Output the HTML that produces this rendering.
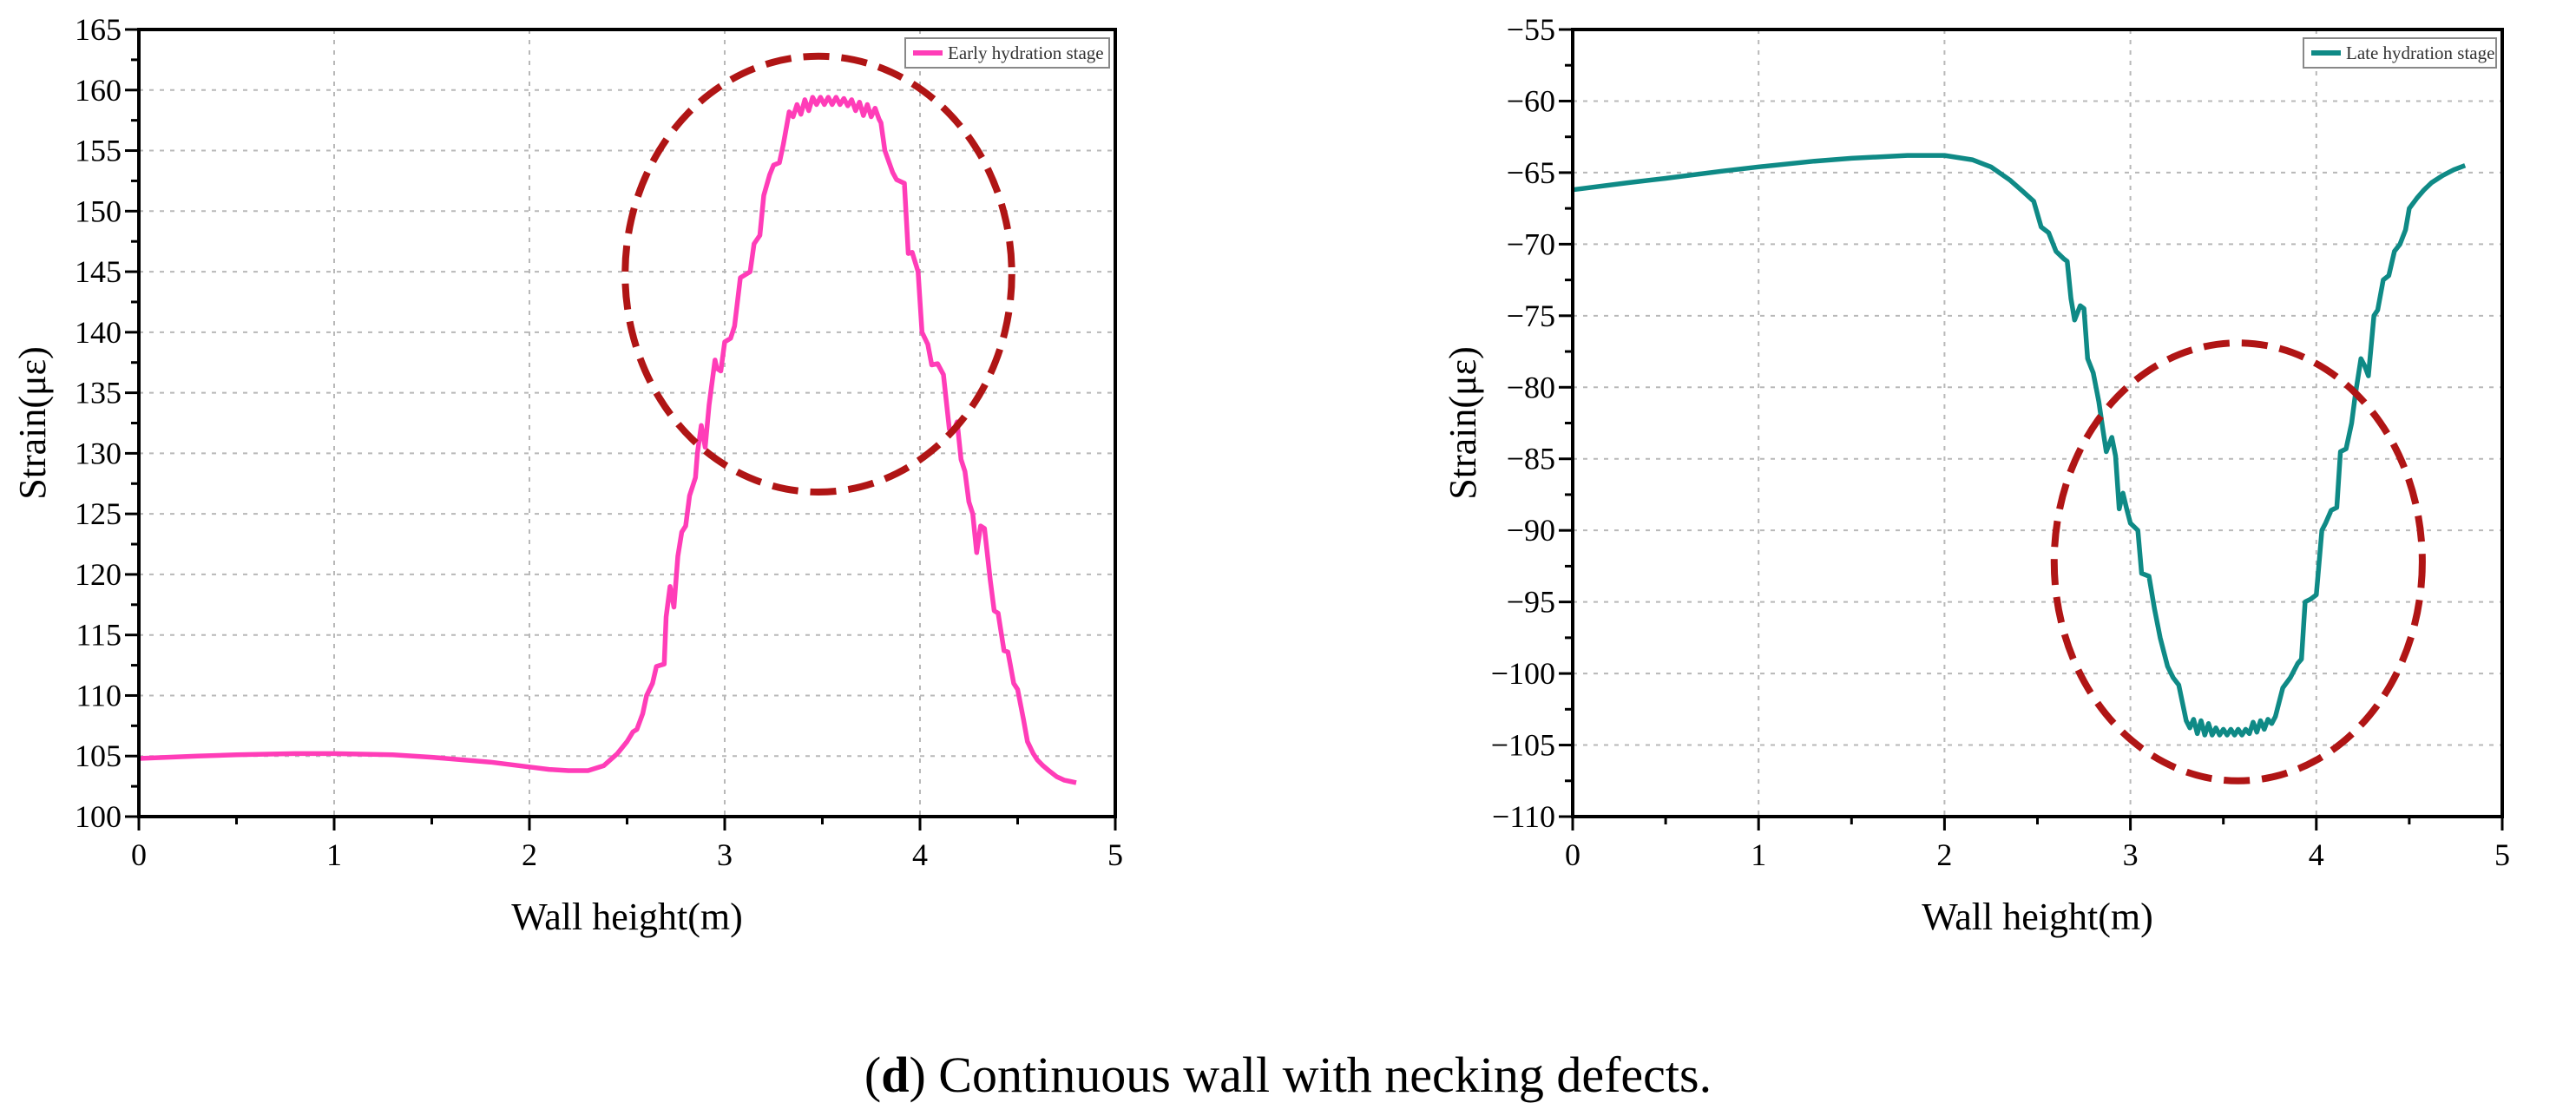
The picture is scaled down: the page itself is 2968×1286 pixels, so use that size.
<!DOCTYPE html>
<html><head><meta charset="utf-8">
<style>
html,body{margin:0;padding:0;background:#fff;}
svg{display:block;font-family:"Liberation Serif",serif;}
</style></head>
<body>
<svg id="fig" width="2968" height="1286" viewBox="0 0 2968 1286" xmlns="http://www.w3.org/2000/svg">
<g id="left"></g>
<g id="right"></g>
<text x="1484" y="1258" text-anchor="middle" font-size="58" fill="#000">(<tspan font-weight="bold">d</tspan>) Continuous wall with necking defects.</text>
</svg>
<script>
const earlyX = [0,0.3,0.5,0.8,1.0,1.3,1.5,1.8,2.0,2.1,2.2,2.3,2.38,2.45,2.5,2.53,2.55,2.58,2.6,2.63,2.65,2.69,2.7,2.72,2.74,2.76,2.78,2.8,2.82,2.85,2.86,2.88,2.9,2.92,2.95,2.96,2.98,3.0,3.03,3.05,3.08,3.1,3.13,3.15,3.18,3.2,3.23,3.25,3.28,3.3,3.33,3.35,3.37,3.39,3.41,3.43,3.45,3.47,3.49,3.51,3.53,3.55,3.57,3.59,3.61,3.63,3.65,3.67,3.69,3.71,3.73,3.75,3.77,3.79,3.8,3.82,3.86,3.88,3.92,3.94,3.96,3.99,4.01,4.04,4.06,4.09,4.12,4.15,4.17,4.19,4.21,4.23,4.25,4.27,4.29,4.31,4.33,4.36,4.38,4.4,4.43,4.45,4.48,4.5,4.53,4.55,4.58,4.6,4.63,4.66,4.7,4.74,4.77,4.8];
const earlyY = [104.8,105.0,105.1,105.2,105.2,105.1,104.9,104.5,104.1,103.9,103.8,103.8,104.2,105.2,106.2,107.0,107.2,108.5,110.0,111.0,112.4,112.6,116.5,119.0,117.3,121.5,123.5,124.0,126.5,128.0,130.0,132.3,130.5,134.0,137.7,137.0,136.8,139.2,139.5,140.5,144.5,144.7,145.0,147.3,148.0,151.3,153.0,153.8,154.0,155.5,158.2,157.8,158.8,158.0,159.2,158.3,159.4,158.8,159.4,158.8,159.4,158.8,159.4,158.8,159.3,158.7,159.2,158.3,159.0,157.9,158.8,157.8,158.5,157.6,157.3,155.0,153.2,152.6,152.3,146.5,146.6,145.0,140.0,139.0,137.3,137.4,136.5,132.0,131.8,132.6,129.5,128.5,126.0,125.0,121.8,124.0,123.8,119.5,117.0,116.8,113.7,113.6,111.0,110.5,108.0,106.2,105.2,104.7,104.2,103.8,103.3,103.0,102.9,102.8];
const lateX = [0,0.3,0.5,0.8,1.0,1.3,1.5,1.8,2.0,2.15,2.25,2.35,2.42,2.48,2.52,2.56,2.6,2.64,2.66,2.68,2.7,2.73,2.75,2.77,2.8,2.83,2.85,2.87,2.9,2.92,2.94,2.96,2.98,3.0,3.04,3.06,3.1,3.13,3.16,3.2,3.23,3.26,3.3,3.32,3.34,3.36,3.38,3.4,3.42,3.44,3.46,3.48,3.5,3.52,3.54,3.56,3.58,3.6,3.62,3.64,3.66,3.68,3.7,3.72,3.74,3.76,3.78,3.82,3.86,3.9,3.92,3.94,3.97,4.0,4.03,4.05,4.08,4.11,4.13,4.16,4.19,4.21,4.24,4.26,4.28,4.31,4.33,4.36,4.39,4.42,4.45,4.48,4.5,4.54,4.58,4.62,4.68,4.74,4.8];
const lateY = [-66.2,-65.7,-65.4,-64.9,-64.6,-64.2,-64.0,-63.8,-63.8,-64.1,-64.6,-65.5,-66.3,-67.0,-68.8,-69.2,-70.5,-71.0,-71.2,-73.8,-75.3,-74.3,-74.5,-78.0,-79.0,-81.0,-82.8,-84.5,-83.5,-84.8,-88.5,-87.4,-88.5,-89.5,-90.0,-93.0,-93.2,-95.5,-97.5,-99.5,-100.3,-100.8,-103.3,-103.8,-103.2,-104.2,-103.3,-104.3,-103.5,-104.3,-103.8,-104.3,-103.9,-104.3,-103.9,-104.3,-103.9,-104.3,-103.9,-104.2,-103.4,-104.1,-103.3,-103.9,-103.2,-103.5,-103.0,-101.0,-100.3,-99.3,-99.0,-95.0,-94.8,-94.5,-90.0,-89.5,-88.6,-88.4,-84.5,-84.3,-82.5,-80.5,-78.0,-78.5,-79.2,-75.0,-74.6,-72.5,-72.2,-70.5,-70.0,-69.0,-67.5,-66.8,-66.2,-65.7,-65.2,-64.8,-64.5];
const leftYTicks = [100,105,110,115,120,125,130,135,140,145,150,155,160,165];
const rightYTicks = [-110,-105,-100,-95,-90,-85,-80,-75,-70,-65,-60,-55];
const xTicks = [0,1,2,3,4,5];
const leftEllipse = [3.48, 144.8, 0.99, 18.0];
const rightEllipse = [3.58, -92.2, 0.99, 15.3];

const NS = "http://www.w3.org/2000/svg";
function mk(parent, tag, attrs, name, text){
  const el = document.createElementNS(NS, tag);
  for (const k in attrs) el.setAttribute(k, attrs[k]);
  
  
  if (text !== undefined) el.textContent = text;
  parent.appendChild(el);
  return el;
}
function draw(g, box, ymin, ymax, yticks, xs, ys, color, legend, ell){
  const [L,T,R,B] = box;
  const sx = v => L + (v - 0) / 5 * (R - L);
  const sy = v => B - (v - ymin) / (ymax - ymin) * (B - T);
  const fmt = v => v < 0 ? "\u2212" + Math.abs(v) : String(v);
  xTicks.forEach(t => { if (t > 0 && t < 5) mk(g,'line',{x1:sx(t),x2:sx(t),y1:T,y2:B,stroke:'#b8b8b8','stroke-width':2,'stroke-dasharray':'5 7'},'x-grid-line'); });
  yticks.forEach(t => { if (t > ymin && t < ymax) mk(g,'line',{x1:L,x2:R,y1:sy(t),y2:sy(t),stroke:'#b8b8b8','stroke-width':2,'stroke-dasharray':'5 7'},'y-grid-line'); });
  xTicks.forEach(t => {
    mk(g,'line',{x1:sx(t),x2:sx(t),y1:B,y2:B+16,stroke:'#000','stroke-width':3},'x-tick');
    mk(g,'text',{x:sx(t),y:B+56,'text-anchor':'middle','font-size':36},'x-tick-label',String(t));
    if (t < 5) mk(g,'line',{x1:sx(t+0.5),x2:sx(t+0.5),y1:B,y2:B+9,stroke:'#000','stroke-width':3},'x-minor-tick');
  });
  yticks.forEach((t,i) => {
    mk(g,'line',{x1:L-16,x2:L,y1:sy(t),y2:sy(t),stroke:'#000','stroke-width':3},'y-tick');
    mk(g,'text',{x:L-20,y:sy(t)+12,'text-anchor':'end','font-size':36},'y-tick-label',fmt(t));
    if (i < yticks.length-1) mk(g,'line',{x1:L-9,x2:L,y1:sy(t+2.5),y2:sy(t+2.5),stroke:'#000','stroke-width':3},'y-minor-tick');
  });
  let d = '';
  xs.forEach((x,i) => { d += (i ? 'L' : 'M') + sx(x).toFixed(1) + ',' + sy(ys[i]).toFixed(1); });
  mk(g,'path',{d:d,fill:'none',stroke:color,'stroke-width':5.5,'stroke-linejoin':'round'},'strain-line');
  mk(g,'ellipse',{cx:sx(ell[0]),cy:sy(ell[1]),rx:ell[2]/5*(R-L),ry:ell[3]/(ymax-ymin)*(B-T),fill:'none',stroke:'#b01515','stroke-width':8,'stroke-dasharray':'30 14'},'defect-ellipse');
  mk(g,'rect',{x:L,y:T,width:R-L,height:B-T,fill:'none',stroke:'#000','stroke-width':4},'plot-frame');
  const lw = legend.w;
  mk(g,'rect',{x:R-7-lw,y:T+10,width:lw,height:34,fill:'#fff',stroke:'#888','stroke-width':2},'legend-box');
  mk(g,'line',{x1:R-lw+2,x2:R-lw+36,y1:T+27,y2:T+27,stroke:color,'stroke-width':6},'legend-swatch');
  mk(g,'text',{x:R-lw+42,y:T+34,'font-size':21,fill:'#333'},'legend-label',legend.t);
  mk(g,'text',{x:(L+R)/2,y:B+130,'text-anchor':'middle','font-size':44},'x-axis-title','Wall height(m)');
  mk(g,'text',{x:0,y:0,'text-anchor':'middle','font-size':44,transform:'translate('+legend.yt+','+((T+B)/2)+') rotate(-90)'},'y-axis-title','Strain(\u03bc\u03b5)');
}
draw(document.getElementById('left'), [160,34,1285,941], 100, 165, leftYTicks, earlyX, earlyY, '#ff3db8', {t:'Early hydration stage', w:235, yt:52}, leftEllipse);
draw(document.getElementById('right'), [1812,34,2883,941], -110, -55, rightYTicks, lateX, lateY, '#0f8a86', {t:'Late hydration stage', w:222, yt:1700}, rightEllipse);
</script>
</body></html>
